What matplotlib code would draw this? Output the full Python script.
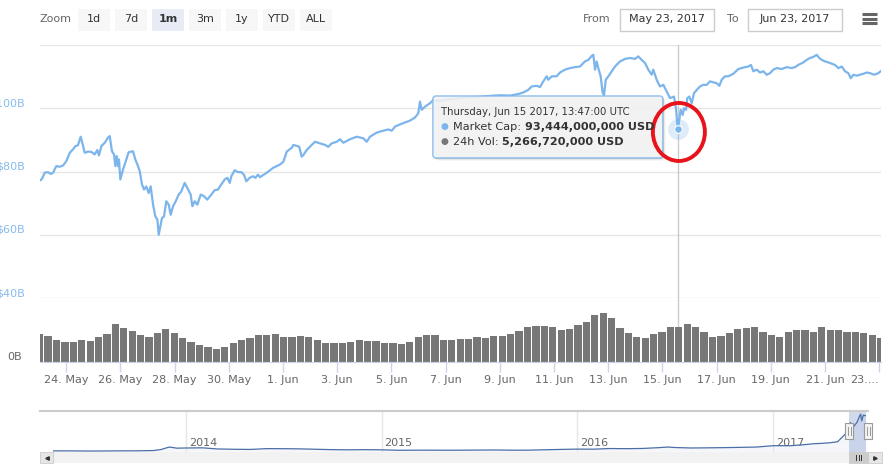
import matplotlib
matplotlib.use('Agg')
import matplotlib.pyplot as plt
import matplotlib.dates as mdates
from matplotlib.patches import Rectangle, FancyBboxPatch, Ellipse
import pandas as pd

W, H = 883, 466

# ---- data (billions USD) ----
start = pd.Timestamp('2017-05-23 00:00')

# hours after start, total market cap
cap_hours = [
    0.6, 2.7, 5.0, 8.0, 10.4, 12.4, 15.3, 18.3, 21.3, 24.2, 27.2, 30.1, 32.1, 34.5, 36.9, 38.3,
    40.5, 43.4, 46.3, 49.3, 51.6, 53.1, 55.2, 58.2, 61.1, 62.6, 64.6, 66.4, 67.6, 68.8, 70.0, 70.8,
    72.0, 74.4, 77.3, 79.4, 83.2, 85.3, 87.7, 89.2, 91.2, 93.0, 95.0, 97.1, 98.9, 101.0, 103.0,
    104.8, 106.0, 107.4, 108.9, 110.7, 112.7, 114.9, 116.6, 118.7, 121.1, 123.7, 126.0, 129.0,
    131.3, 134.3, 135.8, 137.9, 140.2, 143.2, 146.1, 149.0, 152.6, 155.6, 158.5, 161.4, 164.5,
    166.8, 168.9, 170.3, 173.3, 176.2, 179.2, 181.5, 183.6, 186.6, 189.5, 191.6, 193.9, 195.7,
    201.6, 207.5, 213.4, 216.4, 219.4, 223.8, 225.2, 228.2, 230.5, 232.6, 234.1, 237.1, 241.5,
    244.4, 248.9, 253.3, 256.2, 259.2, 263.6, 266.6, 269.5, 275.4, 281.4, 287.2, 290.2, 293.1,
    299.1, 304.9, 309.3, 312.4, 315.3, 319.7, 324.1, 328.6, 333.0, 335.9, 337.4, 338.9, 341.8,
    346.3, 349.2, 355.1, 364.0, 372.8, 381.7, 390.5, 399.4, 408.3, 417.1, 424.5, 428.9, 433.3,
    436.3, 440.7, 443.7, 446.6, 449.6, 451.0, 454.0, 458.4, 461.4, 465.8, 470.3, 474.7, 479.1,
    483.5, 486.5, 489.5, 490.9, 492.4, 493.9, 495.3, 497.4, 499.2, 500.4, 501.9, 504.2, 507.2,
    510.1, 514.5, 519.0, 523.4, 527.8, 530.7, 533.7, 536.7, 539.6, 542.6, 544.0, 547.0, 549.9,
    552.9, 555.9, 558.8, 562.3, 564.1, 565.0, 565.8, 568.3, 570.1, 571.2, 573.0, 574.1, 575.9,
    578.0, 580.1, 582.5, 585.4, 588.3, 591.3, 594.2, 597.2, 600.2, 602.5, 604.6, 607.5, 610.4,
    614.9, 619.3, 622.3, 625.2, 628.2, 630.5, 632.6, 635.6, 638.5, 641.4, 644.5, 647.4, 650.3,
    653.3, 657.7, 662.2, 666.6, 669.5, 672.4, 676.9, 679.9, 682.8, 685.7, 688.7, 691.0, 693.2,
    696.1, 699.0, 702.0, 704.9, 707.9, 710.9, 713.8, 716.7, 718.9, 721.2, 724.2, 727.1, 730.0,
    733.0, 735.9, 739.5, 743.3, 745.4,
]
cap_values = [
    77.1, 77.7, 79.6, 79.8, 79.2, 79.6, 81.7, 81.5, 81.9, 83.3, 85.9, 87.0, 88.0, 88.3, 91.0, 89.1,
    85.9, 86.3, 86.2, 85.4, 86.8, 85.1, 88.0, 89.1, 90.7, 91.2, 86.4, 85.4, 81.7, 84.9, 81.7, 83.8,
    77.5, 80.6, 83.8, 86.1, 86.4, 83.8, 81.7, 80.1, 75.9, 74.3, 75.3, 73.2, 75.3, 69.5, 65.8,
    64.8, 60.0, 62.6, 65.3, 65.8, 70.6, 69.5, 66.3, 69.0, 70.6, 72.7, 73.7, 76.4,
    74.8, 72.7, 69.0, 70.6, 69.5, 72.7, 72.2, 71.1, 72.7, 74.1, 74.3, 75.9, 77.5,
    78.0, 76.4, 78.5, 80.4, 79.8, 79.8, 79.0, 76.9, 78.0, 78.5, 78.0, 79.0, 78.2,
    79.6, 81.2, 82.2, 83.1, 86.3, 87.5, 88.4, 88.1, 87.8, 84.7, 85.2, 86.8, 88.4,
    89.4, 88.9, 88.4, 87.8, 88.9, 89.4, 90.2, 89.1, 90.2, 91.0, 90.5, 89.4, 91.0,
    92.3, 92.9, 93.3, 92.9, 94.2, 94.9, 95.5, 96.1, 97.1, 98.4, 102.1, 99.5, 100.5,
    101.6, 102.6, 102.3, 102.9, 103.2, 103.5, 103.6, 103.9, 104.1, 104.0, 104.5, 105.0, 105.8,
    106.9, 107.1, 106.7, 108.5, 110.1, 109.0, 110.1, 110.1, 111.3, 112.2, 112.7, 113.0, 113.2,
    114.8, 115.3, 116.6, 116.9, 112.2, 114.8, 112.7, 110.1, 104.8, 104.2, 109.0, 110.1, 111.7,
    113.2, 114.8, 115.6, 115.9, 115.6, 116.4, 115.3, 114.3, 112.2, 110.6, 112.2, 109.0, 106.9,
    107.4, 105.3, 103.2, 103.7, 100.0, 96.3, 93.444, 99.5, 97.9, 100.0, 99.5, 103.2, 103.7,
    101.6, 104.8, 105.8, 106.9, 107.4, 107.4, 108.5, 108.2, 107.9, 107.1, 109.0, 110.1, 110.1,
    110.9, 112.4, 112.7, 113.0, 113.2, 113.7, 111.7, 112.2, 111.3, 111.7, 110.6, 111.1, 112.2,
    112.7, 112.4, 113.0, 112.7, 113.0, 113.7, 114.5, 115.3, 115.9, 116.2, 116.9, 115.9, 115.3,
    114.8, 114.5, 114.1, 113.7, 112.7, 113.2, 111.7, 111.1, 109.5, 110.6, 110.3, 110.6, 110.9,
    111.3, 111.1, 110.6, 111.1, 111.7,
]

# 24h volume, evenly spaced bars over the same range
vol_values = [
    4.4, 4.1, 3.4, 3.1, 3.1, 3.5, 3.3, 3.9, 4.3, 5.9, 5.3, 4.9, 4.2, 3.9, 4.5, 5.1, 4.6, 3.7,
    3.2, 2.7, 2.3, 2.0, 2.3, 3.0, 3.4, 3.7, 4.2, 4.2, 4.4, 3.9, 3.9, 4.1, 3.9, 3.5, 3.0, 2.9,
    2.9, 3.1, 3.4, 3.3, 3.3, 3.0, 2.9, 2.8, 3.2, 3.9, 4.2, 4.2, 3.4,
    3.4, 3.6, 3.6, 3.9, 3.8, 4.1, 4.0, 4.3, 4.9, 5.4, 5.7, 5.6, 5.5, 5.0, 5.1, 5.8,
    6.3, 7.3, 7.6, 6.8, 5.3, 4.5, 3.9, 3.7, 4.4, 4.7, 5.5, 5.4, 5.9, 5.5, 4.7, 3.9, 4.1, 4.5,
    5.1, 5.3, 5.4, 4.7, 4.2, 3.9, 4.7, 5.0, 5.0, 4.7, 5.4, 5.0, 5.0, 4.7, 4.7, 4.5, 4.2, 3.7,
]

hover_time = pd.Timestamp('2017-06-15 13:47:00')
hover_cap_usd = 93_444_000_000
hover_vol_usd = 5_266_720_000

# navigator: whole history
nav_dates = [
    '2013-04-28', '2013-06-01', '2013-07-01', '2013-08-01', '2013-09-01', '2013-10-01',
    '2013-11-01', '2013-11-15', '2013-12-01', '2013-12-15', '2014-01-01', '2014-02-01',
    '2014-03-01', '2014-04-01', '2014-05-01', '2014-06-01', '2014-07-01', '2014-08-01',
    '2014-09-01', '2014-10-01', '2014-11-01', '2014-12-01', '2015-01-01', '2015-02-01',
    '2015-03-01', '2015-04-01', '2015-05-01', '2015-06-01', '2015-07-01', '2015-08-01',
    '2015-09-01', '2015-10-01', '2015-11-01', '2015-12-01', '2016-01-01', '2016-02-01',
    '2016-03-01', '2016-04-01', '2016-05-01', '2016-06-01', '2016-06-18', '2016-07-01',
    '2016-08-01', '2016-09-01', '2016-10-01', '2016-11-01', '2016-12-01', '2017-01-01',
    '2017-02-01', '2017-03-01', '2017-03-15', '2017-04-01', '2017-04-15', '2017-05-01',
    '2017-05-10', '2017-05-16', '2017-05-23', '2017-05-25', '2017-05-27', '2017-06-01',
    '2017-06-06', '2017-06-11', '2017-06-13', '2017-06-15', '2017-06-18', '2017-06-23',
]
nav_values = [
    1.6, 1.5, 1.0, 1.2, 1.6, 1.7, 2.5, 5.5, 13.5, 10.0, 10.5, 11.0,
    7.5, 6.5, 6.0, 8.5, 8.3, 7.8, 6.5, 5.3, 4.8, 5.3, 4.8, 3.4,
    3.6, 3.7, 3.5, 3.6, 4.0, 4.3, 3.6, 3.7, 4.9, 6.0, 7.0, 6.8,
    8.8, 8.4, 9.0, 11.5, 13.5, 12.0, 10.5, 11.0, 11.6, 12.5, 13.5, 17.7,
    17.5, 21.0, 23.5, 25.0, 26.5, 30.0, 45.0, 55.0, 77.0, 90.0, 65.0, 80.0,
    90.0, 110.0, 116.0, 95.0, 113.0, 111.0,
]
nav_years = [2014, 2015, 2016, 2017]

price_ticks = [40, 60, 80, 100, 120]
x_ticks = pd.date_range('2017-05-24', '2017-06-23', freq='2D')
zoom_buttons = ['1d', '7d', '1m', '3m', '1y', 'YTD', 'ALL']
zoom_selected = '1m'
range_from = 'May 23, 2017'
range_to = 'Jun 23, 2017'

LINE = '#7cb5ec'
GRID = '#e6e6e6'
AXIS = '#ccd6eb'
TXT = '#666666'

plt.rcParams['font.family'] = ['DejaVu Sans']


def box(x0, y0, x1, y1):
    """pixel box (top-left origin) -> figure fraction rect"""
    return [x0 / W, 1 - y1 / H, (x1 - x0) / W, (y1 - y0) / H]


times = start + pd.to_timedelta(cap_hours, unit='h')
vol_times = pd.date_range(times[0], times[-1], periods=len(vol_values))
bar_w = (vol_times[1] - vol_times[0]) / pd.Timedelta(days=1) * 0.86

fig = plt.figure(figsize=(W / 100, H / 100), dpi=100)

# ---- market cap panel ----
ax_p = fig.add_axes(box(39.7, 45, 880.7, 298))
ax_p.plot(times, cap_values, color=LINE, lw=1.6, zorder=3, solid_joinstyle='round')
ax_p.set_xlim(times[0], times[-1])
ax_p.set_ylim(40, 120)
ax_p.set_yticks(price_ticks)
ax_p.set_yticklabels([r'\$%dB' % v if v < 120 else '' for v in price_ticks])
for lbl in ax_p.get_yticklabels():
    lbl.set_va('bottom')
ax_p.tick_params(axis='y', length=0, pad=10.5, labelsize=8, labelcolor='#86bcee')
ax_p.tick_params(axis='x', length=0, labelbottom=False)
ax_p.grid(axis='y', color=GRID, lw=1)
ax_p.set_axisbelow(True)
for s in ax_p.spines.values():
    s.set_visible(False)

# crosshair + hover marker
ax_p.axvline(hover_time, color='#cccccc', lw=1, zorder=1)
ax_p.plot([hover_time], [hover_cap_usd / 1e9], 'o', ms=15, color=LINE, alpha=0.25,
          mec='none', zorder=4)
ax_p.plot([hover_time], [hover_cap_usd / 1e9], 'o', ms=5.5, color=LINE, mec='white',
          mew=0.8, zorder=5)

# ---- volume panel ----
ax_v = fig.add_axes(box(39.7, 298, 880.7, 362), sharex=ax_p)
ax_v.bar(vol_times, vol_values, width=bar_w, color='#777777', zorder=2)
ax_v.axvline(hover_time, color='#cccccc', lw=1, zorder=1)
ax_v.set_ylim(0, 10)
ax_v.set_yticks([0])
ax_v.set_yticklabels(['0B'])
for lbl in ax_v.get_yticklabels():
    lbl.set_va('bottom')
ax_v.tick_params(axis='y', length=0, pad=13, labelsize=8, labelcolor=TXT)
ax_v.set_xticks(x_ticks)
labels = ['%d. %s' % (d.day, d.strftime('%b')) for d in x_ticks]
labels[-1] = '23....'
ax_v.set_xticklabels(labels)
ax_v.get_xticklabels()[-1].set_ha('right')
ax_v.tick_params(axis='x', length=7.5, width=1, color=AXIS, labelsize=8,
                 labelcolor=TXT, pad=2)
for k, s in ax_v.spines.items():
    s.set_visible(k == 'bottom')
ax_v.spines['bottom'].set_color(AXIS)
ax_v.set_xlim(times[0], times[-1])

# ---- navigator ----
nd = pd.to_datetime(nav_dates)
ax_n = fig.add_axes(box(53, 411, 866, 452))
ax_n.fill_between(nd, nav_values, 0, color='#335cad', alpha=0.05, lw=0)
ax_n.plot(nd, nav_values, color='#4a6ea8', lw=0.9, zorder=3)
ax_n.set_xlim(nd[0], nd[-1])
ax_n.set_ylim(-2, 126)
ax_n.axis('off')
for yr in nav_years:
    d = pd.Timestamp('%d-01-01' % yr)
    ax_n.axvline(d, color=GRID, lw=1, zorder=1)
    ax_n.annotate(str(yr), xy=(d, 0.22), xycoords=('data', 'axes fraction'),
                  xytext=(3, 0), textcoords='offset pixels', ha='left', va='center',
                  fontsize=8, color=TXT, zorder=2)
ax_n.axvspan(times[0], nd[-1], color='#6685c2', alpha=0.3, lw=0, zorder=2)

# ---- ui overlay in pixel coordinates ----
ui = fig.add_axes([0, 0, 1, 1], zorder=10)
ui.set_xlim(0, W)
ui.set_ylim(H, 0)
ui.axis('off')
ui.patch.set_alpha(0)

# zoom buttons
ui.text(40, 19.5, 'Zoom', fontsize=8, color=TXT, va='center', ha='left')
for i, b in enumerate(zoom_buttons):
    x0 = 78 + i * 37
    sel = b == zoom_selected
    ui.add_patch(Rectangle((x0, 9), 32, 22, fc='#e6ebf5' if sel else '#f7f7f7', ec='none'))
    ui.text(x0 + 16, 19.5, b, fontsize=8, color='#333333', ha='center', va='center',
            fontweight='bold' if sel else 'normal')

# range inputs
ui.text(583, 19.5, 'From', fontsize=8, color=TXT, va='center')
ui.add_patch(Rectangle((620, 9), 94, 22, fc='white', ec='#cccccc', lw=1))
ui.text(667, 19.5, range_from, fontsize=8, color='#333333', ha='center', va='center')
ui.text(727, 19.5, 'To', fontsize=8, color=TXT, va='center')
ui.add_patch(Rectangle((748, 9), 94, 22, fc='white', ec='#cccccc', lw=1))
ui.text(795, 19.5, range_to, fontsize=8, color='#333333', ha='center', va='center')
for yy in (14, 18.5, 23):
    ui.plot([862, 877], [yy, yy], color=TXT, lw=2.2, solid_capstyle='butt')

# tooltip anchored to hover point
dx, dy = ax_p.transData.transform((mdates.date2num(hover_time), hover_cap_usd / 1e9))
px, py = dx, H - dy
bx0, by0, bx1, by1 = px - 245, py - 33, px - 15, py + 29
for off, a in ((1, 0.10), (2, 0.06), (3, 0.03)):
    ui.add_patch(FancyBboxPatch((bx0 + off, by0 + off), bx1 - bx0, by1 - by0,
                                boxstyle='round,pad=0,rounding_size=3', fc='black',
                                ec='none', alpha=a))
ui.add_patch(FancyBboxPatch((bx0, by0), bx1 - bx0, by1 - by0,
                            boxstyle='round,pad=0,rounding_size=3', fc='#f7f7f7',
                            ec=LINE, lw=1, alpha=0.88))
ui.text(bx0 + 8, by0 + 16, hover_time.strftime('%A, %b %d %Y, %H:%M:%S UTC'),
        fontsize=7.3, color='#333333', va='center')
rows = [(LINE, 'Market Cap: ', hover_cap_usd, 31), ('#777777', '24h Vol: ', hover_vol_usd, 46)]
for col, name, val, oy in rows:
    ui.text(bx0 + 8, by0 + oy, '\u25cf', fontsize=6.5, color=col, va='center')
    t1 = ui.text(bx0 + 20, by0 + oy, name, fontsize=8.1, color='#333333', va='center')
    ui.annotate('%s USD' % format(val, ','), xy=(1, 0.5), xycoords=t1, ha='left',
                va='center', fontsize=8.1, fontweight='bold', color='#333333')

# red hand-drawn circle
ui.add_patch(Ellipse((px + 1, py + 3), 52, 58, fill=False, ec='#e8141b', lw=2.8))

# navigator outline, handles, scrollbar
ui.plot([40, 868], [411, 411], color='#cccccc', lw=1.5)
nx0 = ax_n.transData.transform((mdates.date2num(times[0]), 0))[0]
nx1 = ax_n.transData.transform((mdates.date2num(nd[-1]), 0))[0] + 2
for hx in (nx0, nx1):
    ui.add_patch(Rectangle((hx - 4, 423), 8, 16, fc='#f2f2f2', ec='#999999', lw=0.8))
    for lx in (hx - 1.5, hx + 1.5):
        ui.plot([lx, lx], [427, 435], color='#999999', lw=0.7)
ui.add_patch(Rectangle((40, 452), 842, 11, fc='#f2f2f2', ec='none'))
ui.add_patch(Rectangle((40, 452), 13, 11, fc='#e6e6e6', ec='#cccccc', lw=0.6))
ui.add_patch(Rectangle((868, 452), 14, 11, fc='#e6e6e6', ec='#cccccc', lw=0.6))
ui.plot([46.5], [457.5], marker='<', ms=2.5, color='#333333')
ui.plot([875], [457.5], marker='>', ms=2.5, color='#333333')
ui.add_patch(Rectangle((nx0, 452), nx1 - nx0, 11, fc='#cccccc', ec='#cccccc', lw=0.6))
cx = (nx0 + nx1) / 2
for lx in (cx - 2.5, cx, cx + 2.5):
    ui.plot([lx, lx], [455, 460], color='#333333', lw=0.7)

fig.savefig('out.png', dpi=100)
